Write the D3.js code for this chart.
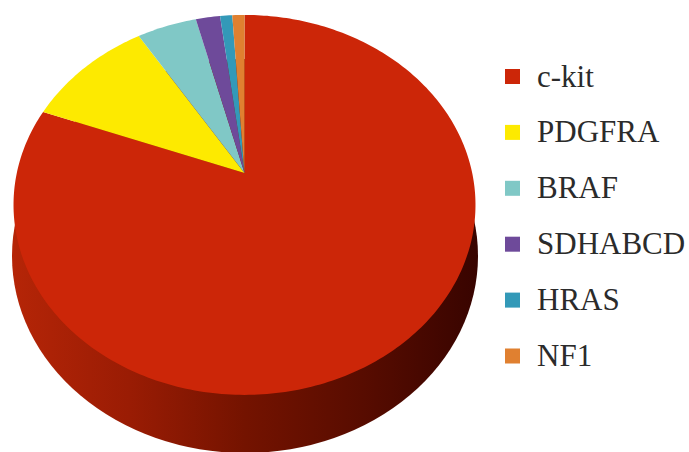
<!DOCTYPE html>
<html><head><meta charset="utf-8">
<script src="https://cdn.jsdelivr.net/npm/d3@7/dist/d3.min.js"></script>
<style>html,body{margin:0;padding:0;background:#fff;overflow:hidden}svg{display:block}</style>
</head><body><svg id="c" width="689" height="452"></svg>
<script>
const categories = ["c-kit","PDGFRA","BRAF","SDHABCD","HRAS","NF1"];
const values = [80.7,10.4,4.9,2,1,1];
const colors = ["#cc2608","#fdea00","#80c8c6","#6e4a9a","#3399b8","#e08030"];

const svg = d3.select("#c");
const defs = svg.append("defs");
const grad = defs.append("linearGradient").attr("id","side").attr("x1",0).attr("x2",1).attr("y1",0).attr("y2",0);
[[0,"#b52507"],[0.25,"#9a1c04"],[0.5,"#741300"],[0.75,"#580c00"],[1,"#380400"]]
  .forEach(([o,c])=>grad.append("stop").attr("offset",o).attr("stop-color",c));

// side of the disc
svg.append("ellipse").attr("cx",245).attr("cy",256).attr("rx",233).attr("ry",197).attr("fill","url(#side)");

// top face: pie seen in perspective, so the apex sits above the ellipse centre
const cx=244.5, cy=173, R=227.7, S=184.6, q=0.168;
const project = a => {
  const u=Math.sin(a), v=-Math.cos(a), w=1-q*v;
  return [cx+R*u/w, cy+S*v/w];
};
const pie = d3.pie().sort(null).value(d=>d)(values);
const line = d3.line();
pie.forEach((d,i)=>{
  const n=Math.max(4,Math.ceil((d.endAngle-d.startAngle)*60));
  const pts=[[cx,cy]];
  d3.range(n+1).forEach(k=>pts.push(project(d.startAngle+(d.endAngle-d.startAngle)*k/n)));
  svg.append("path").attr("d",line(pts)+"Z").attr("fill",colors[i]);
});

// legend
const y = d3.scalePoint().domain(categories).range([76.5,356]);
const g = svg.selectAll("g.l").data(categories).join("g").attr("class","l")
  .attr("transform",d=>`translate(505,${y(d)})`);
g.append("rect").attr("x",0).attr("y",-7.5).attr("width",15).attr("height",15).attr("fill",(d,i)=>colors[i]);
g.append("text").attr("x",32).attr("y",10).text(d=>d)
  .attr("font-family","'Liberation Serif',serif").attr("font-size",31).attr("fill","#2b2b2b");
</script></body></html>
